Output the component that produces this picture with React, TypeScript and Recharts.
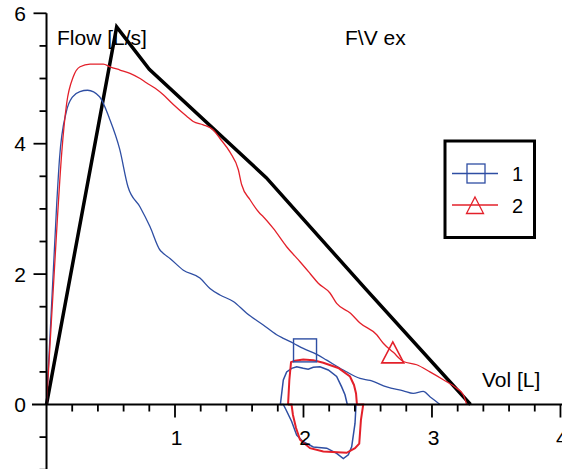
import React from "react";
import { ComposedChart, Line, XAxis, YAxis, ReferenceLine, ReferenceDot } from "recharts";

// volume [L], flow [L/s]
const predicted = [
  [0, 0], [0.546, 5.79], [0.8, 5.14], [1.71, 3.48], [2.48, 1.78], [3.3, 0],
];

const curve1 = [
  [0, 0], [0.08, 3.1], [0.101, 3.77], [0.154, 4.49], [0.203, 4.72], [0.26, 4.8],
  [0.32, 4.82], [0.413, 4.72], [0.491, 4.38], [0.569, 3.92], [0.634, 3.34],
  [0.728, 3.03], [0.805, 2.73], [0.883, 2.37], [0.908, 2.32], [0.961, 2.24],
  [1.065, 2.06], [1.194, 1.94], [1.272, 1.78], [1.35, 1.68], [1.454, 1.58],
  [1.558, 1.4], [1.687, 1.22], [1.791, 1.07], [1.843, 1.015], [1.921, 0.94],
  [1.998, 0.86], [2.103, 0.77], [2.181, 0.68], [2.31, 0.53], [2.44, 0.4],
  [2.518, 0.37], [2.648, 0.27], [2.777, 0.21], [2.854, 0.17], [2.932, 0.2],
  [2.984, 0.12], [3.062, 0],
];

const loop1 = [
  [1.82, 0], [1.843, 0.376], [1.869, 0.5], [1.908, 0.555], [1.947, 0.58],
  [1.998, 0.555], [2.037, 0.54], [2.076, 0.57], [2.128, 0.58], [2.193, 0.53],
  [2.258, 0.43], [2.297, 0.27], [2.323, 0.15], [2.341, 0], [2.409, 0],
  [2.401, -0.29], [2.375, -0.65], [2.349, -0.77], [2.31, -0.83], [2.258, -0.75],
  [2.181, -0.67], [2.076, -0.65], [1.998, -0.57], [1.947, -0.47], [1.908, -0.26],
  [1.864, -0.08], [1.843, 0], [1.82, 0],
];

const curve2 = [
  [0, 0], [0.084, 2.83], [0.118, 3.85], [0.157, 4.62], [0.209, 5.03], [0.261, 5.18],
  [0.339, 5.22], [0.442, 5.22], [0.494, 5.18], [0.572, 5.13], [0.65, 5.08],
  [0.728, 5.0], [0.78, 4.93], [0.846, 4.85], [0.909, 4.75], [0.987, 4.6],
  [1.091, 4.42], [1.142, 4.34], [1.22, 4.29], [1.298, 4.21], [1.35, 4.08],
  [1.428, 3.87], [1.493, 3.6], [1.519, 3.37], [1.584, 3.14], [1.661, 2.93],
  [1.687, 2.88], [1.765, 2.7], [1.869, 2.42], [1.973, 2.19], [2.051, 2.01],
  [2.115, 1.86], [2.206, 1.71], [2.258, 1.55], [2.366, 1.4], [2.44, 1.25],
  [2.57, 1.07], [2.621, 0.94], [2.699, 0.8], [2.777, 0.66], [2.881, 0.61],
  [2.984, 0.5], [3.088, 0.38], [3.192, 0.25], [3.244, 0.15], [3.27, 0],
];

const loop2 = [
  [1.88, 0], [1.89, 0.376], [1.903, 0.65], [1.934, 0.67], [1.998, 0.69],
  [2.076, 0.68], [2.154, 0.64], [2.271, 0.56], [2.362, 0.43], [2.393, 0.3],
  [2.409, 0.17], [2.416, 0], [2.465, 0], [2.447, -0.24], [2.434, -0.6],
  [2.401, -0.67], [2.336, -0.74], [2.154, -0.72], [2.051, -0.67], [1.973, -0.54],
  [1.942, -0.36], [1.918, -0.16], [1.907, 0], [1.88, 0],
];

const marker1 = [[2.012, 0.83]];
const marker2 = [[2.695, 0.8]];

const xTicks = [0.2, 0.4, 0.6, 0.8, 1, 1.2, 1.4, 1.6, 1.8, 2, 2.2, 2.4, 2.6, 2.8, 3, 3.2, 3.4, 3.6, 3.8, 4];
const xLabels = [1, 2, 3, 4];
const yTicks = [-1, -0.5, 0.5, 1, 1.5, 2, 2.5, 3, 3.5, 4, 4.5, 5, 5.5, 6];
const yLabels = [0, 2, 4, 6];

const BLUE = "#2e4ea3";
const RED = "#e3202a";
const FONT = "'Liberation Sans', Arial, Helvetica, sans-serif";

const pts = (a: number[][]) => a.map(([x, y]) => ({ x, y }));

const squareDot = (p: any) => (
  <rect key="sq" x={p.cx - 11.5} y={p.cy - 11.5} width={23} height={23} fill="none" stroke={BLUE} strokeWidth={1.4} />
);
const triDot = (p: any) => (
  <path key="tri" d={`M${p.cx},${p.cy - 10.5} L${p.cx + 11},${p.cy + 10.5} L${p.cx - 11},${p.cy + 10.5} Z`} fill="none" stroke={RED} strokeWidth={1.6} />
);

const tickLine = (dx: number, dy: number) => (p: any) => (
  <line x1={p.cx} y1={p.cy} x2={p.cx + dx} y2={p.cy + dy} stroke="#000" strokeWidth={1.8} />
);

const label = (text: string, dx: number, dy: number, anchor: string) => (p: any) => (
  <text x={p.cx + dx} y={p.cy + dy} textAnchor={anchor} fontFamily={FONT} fontSize={21} fill="#000">
    {text}
  </text>
);

export default function App() {
  return (
    <div style={{ position: "fixed", left: 0, top: 0, width: 562, height: 469, overflow: "hidden", background: "#fff" }}>
      <ComposedChart width={562} height={469} margin={{ top: 0, right: 0, bottom: 0, left: 0 }}>
        <XAxis type="number" dataKey="x" domain={[-0.362, 4.012]} allowDataOverflow hide />
        <YAxis type="number" dataKey="y" domain={[-0.989, 6.204]} allowDataOverflow hide />

        <Line data={pts(predicted)} dataKey="y" type="linear" stroke="#000" strokeWidth={3.5} dot={false} activeDot={false} isAnimationActive={false} />
        <Line data={pts(curve1)} dataKey="y" type="monotone" stroke={BLUE} strokeWidth={1.3} dot={false} activeDot={false} isAnimationActive={false} />
        <Line data={pts(loop1)} dataKey="y" type="linear" stroke={BLUE} strokeWidth={1.5} dot={false} activeDot={false} isAnimationActive={false} />
        <Line data={pts(curve2)} dataKey="y" type="monotone" stroke={RED} strokeWidth={1.3} dot={false} activeDot={false} isAnimationActive={false} />
        <Line data={pts(loop2)} dataKey="y" type="linear" stroke={RED} strokeWidth={2} dot={false} activeDot={false} isAnimationActive={false} />
        <Line data={pts(marker1)} dataKey="y" stroke="none" dot={squareDot} activeDot={false} isAnimationActive={false} />
        <Line data={pts(marker2)} dataKey="y" stroke="none" dot={triDot} activeDot={false} isAnimationActive={false} />

        <ReferenceLine segment={[{ x: 0, y: -1 }, { x: 0, y: 6 }]} stroke="#000" strokeWidth={2} ifOverflow="visible" />
        <ReferenceLine segment={[{ x: -0.113, y: 0 }, { x: 4.012, y: 0 }]} stroke="#000" strokeWidth={2} ifOverflow="visible" />

        {xTicks.map((v) => (
          <ReferenceDot key={`xt${v}`} x={v} y={0} r={0} ifOverflow="visible" shape={tickLine(0, xLabels.includes(v) ? 13 : 7)} />
        ))}
        {yTicks.map((v) => (
          <ReferenceDot key={`yt${v}`} x={0} y={v} r={0} ifOverflow="visible" shape={tickLine(yLabels.includes(v) ? -13 : -7, 0)} />
        ))}
        {xLabels.map((v) => (
          <ReferenceDot key={`xl${v}`} x={v} y={0} r={0} ifOverflow="visible" shape={label(String(v), 1.5, 40.5, "middle")} />
        ))}
        {yLabels.map((v) => (
          <ReferenceDot key={`yl${v}`} x={0} y={v} r={0} ifOverflow="visible" shape={label(String(v), -20.5, 7.5, "end")} />
        ))}
      </ComposedChart>

      <svg width={562} height={469} style={{ position: "absolute", left: 0, top: 0, pointerEvents: "none" }}>
        <g fontFamily={FONT} fontSize={21} fill="#000">
          <text x={57} y={44.5}>Flow [L/s]</text>
          <text x={345} y={44.5}>{"F\\V ex"}</text>
          <text x={482} y={386.5}>Vol [L]</text>
        </g>
        <rect x={445} y={141} width={89.5} height={96.5} fill="#fff" stroke="#000" strokeWidth={3} />
        <line x1={452} y1={173.5} x2={498} y2={173.5} stroke={BLUE} strokeWidth={1.3} />
        <rect x={467} y={164} width={18} height={19} fill="none" stroke={BLUE} strokeWidth={1.3} />
        <text x={512} y={180.5} fontFamily={FONT} fontSize={20}>1</text>
        <line x1={452} y1={205} x2={498} y2={205} stroke={RED} strokeWidth={1.3} />
        <path d="M475,197 L483.5,213.5 L466.5,213.5 Z" fill="none" stroke={RED} strokeWidth={1.3} />
        <text x={512} y={212.5} fontFamily={FONT} fontSize={20}>2</text>
      </svg>
    </div>
  );
}
